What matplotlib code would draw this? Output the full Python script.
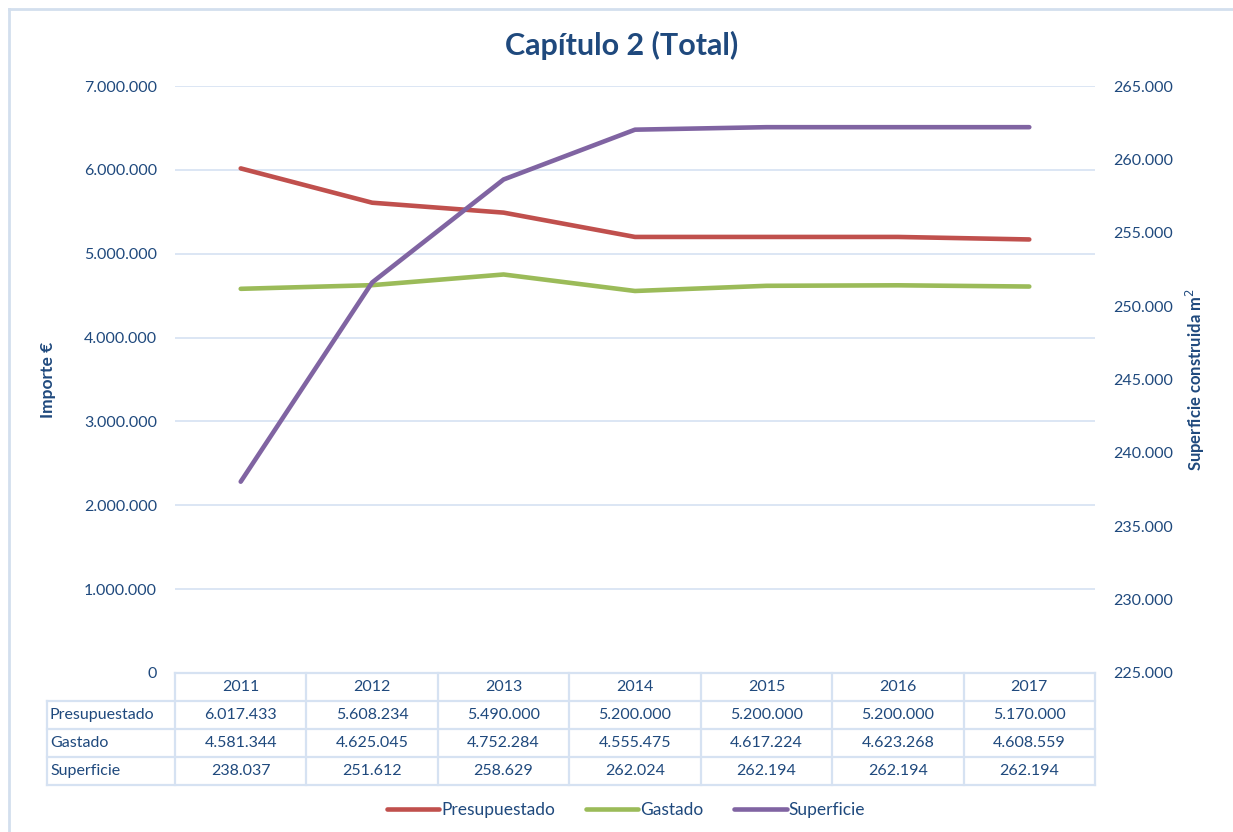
import matplotlib
matplotlib.use("Agg")
import matplotlib.pyplot as plt
from matplotlib.lines import Line2D
import matplotlib.ticker as mticker

years = ["2011", "2012", "2013", "2014", "2015", "2016", "2017"]
presupuestado = [6017433, 5608234, 5490000, 5200000, 5200000, 5200000, 5170000]
gastado = [4581344, 4625045, 4752284, 4555475, 4617224, 4623268, 4608559]
superficie = [238037, 251612, 258629, 262024, 262194, 262194, 262194]
series_names = ["Presupuestado", "Gastado", "Superficie"]
left_ticks = [0, 1000000, 2000000, 3000000, 4000000, 5000000, 6000000, 7000000]
right_ticks = [225000, 230000, 235000, 240000, 245000, 250000, 255000, 260000, 265000]

RED = "#C0504D"
GREEN = "#9BBB59"
PURPLE = "#8064A2"
TXT = "#1F497D"
GRID = "#D6E2F2"
FONT = "Lato"

plt.rcParams["font.family"] = [FONT, "DejaVu Sans"]

W, H = 1233, 832
fig = plt.figure(figsize=(W / 100, H / 100), dpi=100)

def fx(px):
    return px / W

def fy(py):
    return 1 - py / H

# outer frame (left and top edges visible)
fig.add_artist(Line2D([fx(9), fx(9)], [fy(9), 0], color="#D3DFEE", lw=2))
fig.add_artist(Line2D([fx(9), 1], [fy(9), fy(9)], color="#D3DFEE", lw=2))

x0, x1, ytop, ybot = 175, 1095, 86, 673
ax = fig.add_axes([fx(x0), fy(ybot), fx(x1) - fx(x0), fy(ytop) - fy(ybot)])
ax2 = ax.twinx()

fmt = lambda v: f"{int(v):,}".replace(",", ".")

xs = list(range(len(years)))
ax.set_xlim(-0.5, len(years) - 0.5)
ax.set_ylim(0, 7000000)
ax2.set_ylim(225000, 265000)
ax.set_yticks(left_ticks)
ax2.set_yticks(right_ticks)
ax.yaxis.set_major_formatter(mticker.FuncFormatter(lambda v, p: fmt(v)))
ax2.yaxis.set_major_formatter(mticker.FuncFormatter(lambda v, p: fmt(v)))
ax.set_xticks([])
for a in (ax, ax2):
    for s in a.spines.values():
        s.set_visible(False)
    a.tick_params(axis="y", length=0, labelsize=11.5, labelcolor=TXT)
ax.tick_params(axis="y", pad=13)
ax2.tick_params(axis="y", pad=13)
ax.grid(axis="y", color=GRID, lw=1.2)
ax.set_axisbelow(True)

ax.plot(xs, presupuestado, color=RED, lw=3.3, solid_capstyle="round", zorder=3)
ax.plot(xs, gastado, color=GREEN, lw=3.3, solid_capstyle="round", zorder=3)
ax2.plot(xs, superficie, color=PURPLE, lw=3.3, solid_capstyle="round", zorder=3)

ax.set_ylabel("Importe €", color=TXT, fontsize=12.5, fontweight="bold", labelpad=20)
ax2.set_ylabel("Superficie construida m$^2$", color=TXT, fontsize=12, fontweight="bold", labelpad=8)

# data table
row_h = 28
table_rows = [presupuestado, gastado, superficie]
colw = (x1 - x0) / len(years)
tcol = GRID
lw_t = 1.6
fig.add_artist(Line2D([fx(x0), fx(x1)], [fy(ybot), fy(ybot)], color=tcol, lw=lw_t))
for i in range(1, len(table_rows) + 2):
    y = ybot + i * row_h
    fig.add_artist(Line2D([fx(47), fx(x1)], [fy(y), fy(y)], color=tcol, lw=lw_t))
for j in range(len(years) + 1):
    xx = x0 + j * colw
    fig.add_artist(Line2D([fx(xx), fx(xx)], [fy(ybot), fy(ybot + 4 * row_h)], color=tcol, lw=lw_t))
fig.add_artist(Line2D([fx(47), fx(47)], [fy(ybot + row_h), fy(ybot + 4 * row_h)], color=tcol, lw=lw_t))

for j, yr in enumerate(years):
    fig.text(fx(x0 + (j + 0.5) * colw), fy(ybot + 0.5 * row_h), yr, ha="center", va="center",
             fontsize=11.5, color=TXT)
for i, (name, vals) in enumerate(zip(series_names, table_rows)):
    yc = ybot + (i + 1.5) * row_h
    fig.text(fx(50), fy(yc), name, ha="left", va="center", fontsize=11.5, color=TXT)
    for j, v in enumerate(vals):
        fig.text(fx(x0 + (j + 0.5) * colw), fy(yc), fmt(v), ha="center", va="center",
                 fontsize=11.5, color=TXT)

# title
fig.text(fx(622), fy(45), "Capítulo 2 (Total)", ha="center", va="center",
         fontsize=22, fontweight="bold", color=TXT)

# legend
handles = [Line2D([], [], color=c, lw=3.3, solid_capstyle="round") for c in (RED, GREEN, PURPLE)]
leg = fig.legend(handles, series_names, loc="center", bbox_to_anchor=(fx(626), fy(810)),
                 ncol=3, frameon=False, fontsize=12.5, handlelength=3.0, handletextpad=0.1,
                 columnspacing=1.8)
for t in leg.get_texts():
    t.set_color(TXT)

fig.savefig("out.png", dpi=100)
